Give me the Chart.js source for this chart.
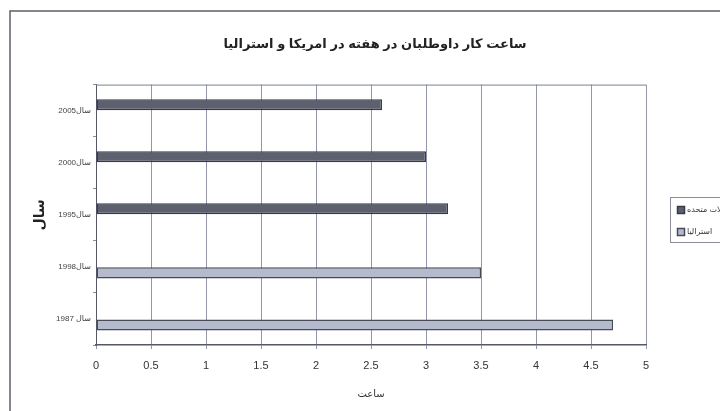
<!DOCTYPE html>
<html>
<head>
<meta charset="utf-8">
<script src="https://cdn.jsdelivr.net/npm/chart.js@4.4.0/dist/chart.umd.min.js"></script>
<style>
  html, body { margin: 0; padding: 0; background: #fff; }
</style>
</head>
<body>
<canvas id="hoursChart" width="720" height="411" dir="rtl"></canvas>
<script>
// data
const years = ["سال2005", "سال2000", "سال1995", "سال1998", "سال 1987"];
const usaHours = [2.6, 3.0, 3.2, null, null];
const australiaHours = [null, null, null, 3.5, 4.7];
const hourTicks = [0, 0.5, 1, 1.5, 2, 2.5, 3, 3.5, 4, 4.5, 5];
const seriesNames = ["ایالات متحده", "استرالیا"];

Chart.defaults.font.family = "'Liberation Sans', 'DejaVu Sans', sans-serif";
Chart.defaults.color = "#333";

// scanned page frame + top edge of the plot box
const framePlugin = {
  id: "frame",
  beforeDraw(chart) {
    const c = chart.ctx;
    c.save();
    c.fillStyle = "#fff";
    c.fillRect(0, 0, chart.width, chart.height);
    c.strokeStyle = "#5b5e6b";
    c.lineWidth = 1.5;
    c.strokeRect(10, 11, chart.width + 20, chart.height + 20);
    c.restore();
  },
  afterDraw(chart) {
    const c = chart.ctx;
    const a = chart.chartArea;
    c.save();
    c.strokeStyle = "#7c8092";
    c.lineWidth = 1;
    c.beginPath();
    c.moveTo(a.left, a.top + 0.5);
    c.lineTo(a.right, a.top + 0.5);
    c.stroke();
    c.restore();
  }
};

// legend box on the right, cut off by the page edge
const legendPlugin = {
  id: "rtlLegend",
  afterDraw(chart) {
    const c = chart.ctx;
    c.save();
    c.strokeStyle = "#8a8d99";
    c.lineWidth = 1;
    c.strokeRect(670.5, 197.5, 80, 45);
    c.font = "8px 'Liberation Sans', 'DejaVu Sans', sans-serif";
    c.textAlign = "left";
    c.textBaseline = "middle";
    chart.data.datasets.forEach(function (ds, i) {
      const y = 210 + i * 22;
      c.fillStyle = ds.backgroundColor;
      c.fillRect(677.5, y - 3.5, 7, 7);
      c.strokeStyle = ds.borderColor;
      c.lineWidth = 1.5;
      c.strokeRect(677.5, y - 3.5, 7, 7);
      c.fillStyle = "#333";
      c.fillText(ds.label, 687, y);
    });
    c.restore();
  }
};

const ctx = document.getElementById("hoursChart").getContext("2d");
const hoursChart = new Chart(ctx, {
  type: "bar",
  data: {
    labels: years,
    datasets: [
      {
        label: seriesNames[0],
        data: usaHours,
        backgroundColor: "#5c606f",
        borderColor: "#383b46",
        borderWidth: 1.5,
        borderSkipped: false,
        barPercentage: 0.92,
        categoryPercentage: 0.46
      },
      {
        label: seriesNames[1],
        data: australiaHours,
        backgroundColor: "#b6bacd",
        borderColor: "#474a57",
        borderWidth: 1.5,
        borderSkipped: false,
        barPercentage: 0.92,
        categoryPercentage: 0.46
      }
    ]
  },
  options: {
    indexAxis: "y",
    responsive: false,
    animation: false,
    layout: { padding: { left: 30, right: 0, top: 0, bottom: 0 } },
    plugins: {
      legend: { display: false },
      tooltip: { enabled: false },
      title: {
        display: true,
        text: "ساعت کار داوطلبان در هفته در امریکا و استرالیا",
        color: "#222",
        font: { size: 13, weight: "bold" },
        padding: { top: 37, bottom: 32 }
      }
    },
    scales: {
      x: {
        min: 0,
        max: 5,
        afterFit(scale) { scale.height = 66; },
        afterBuildTicks(scale) {
          scale.ticks = hourTicks.map(function (v) { return { value: v }; });
        },
        ticks: {
          font: { size: 11 },
          color: "#333",
          padding: 10,
          callback: function (v) { return String(v); }
        },
        grid: { color: "#9296a8", lineWidth: 1, tickLength: 4 },
        border: { color: "#555866", width: 1.5 },
        title: {
          display: true,
          text: "ساعت",
          color: "#333",
          font: { size: 10 },
          padding: { top: 0, bottom: 11 }
        }
      },
      y: {
        afterFit(scale) { scale.width = 66; },
        ticks: { font: { size: 8 }, color: "#444", padding: 2 },
        grid: { drawOnChartArea: false, color: "#8a8d99", tickLength: 3 },
        border: { color: "#555866", width: 1 },
        title: {
          display: true,
          text: "سال",
          color: "#222",
          font: { size: 14, weight: "bold" },
          padding: { top: 2, bottom: 0 }
        }
      },
      // empty strip that keeps room for the legend on the right
      legendRoom: {
        type: "linear",
        position: "right",
        afterFit(scale) { scale.width = 74; },
        ticks: { display: false },
        grid: { display: false },
        border: { display: false }
      }
    }
  },
  plugins: [framePlugin, legendPlugin]
});
</script>
</body>
</html>
